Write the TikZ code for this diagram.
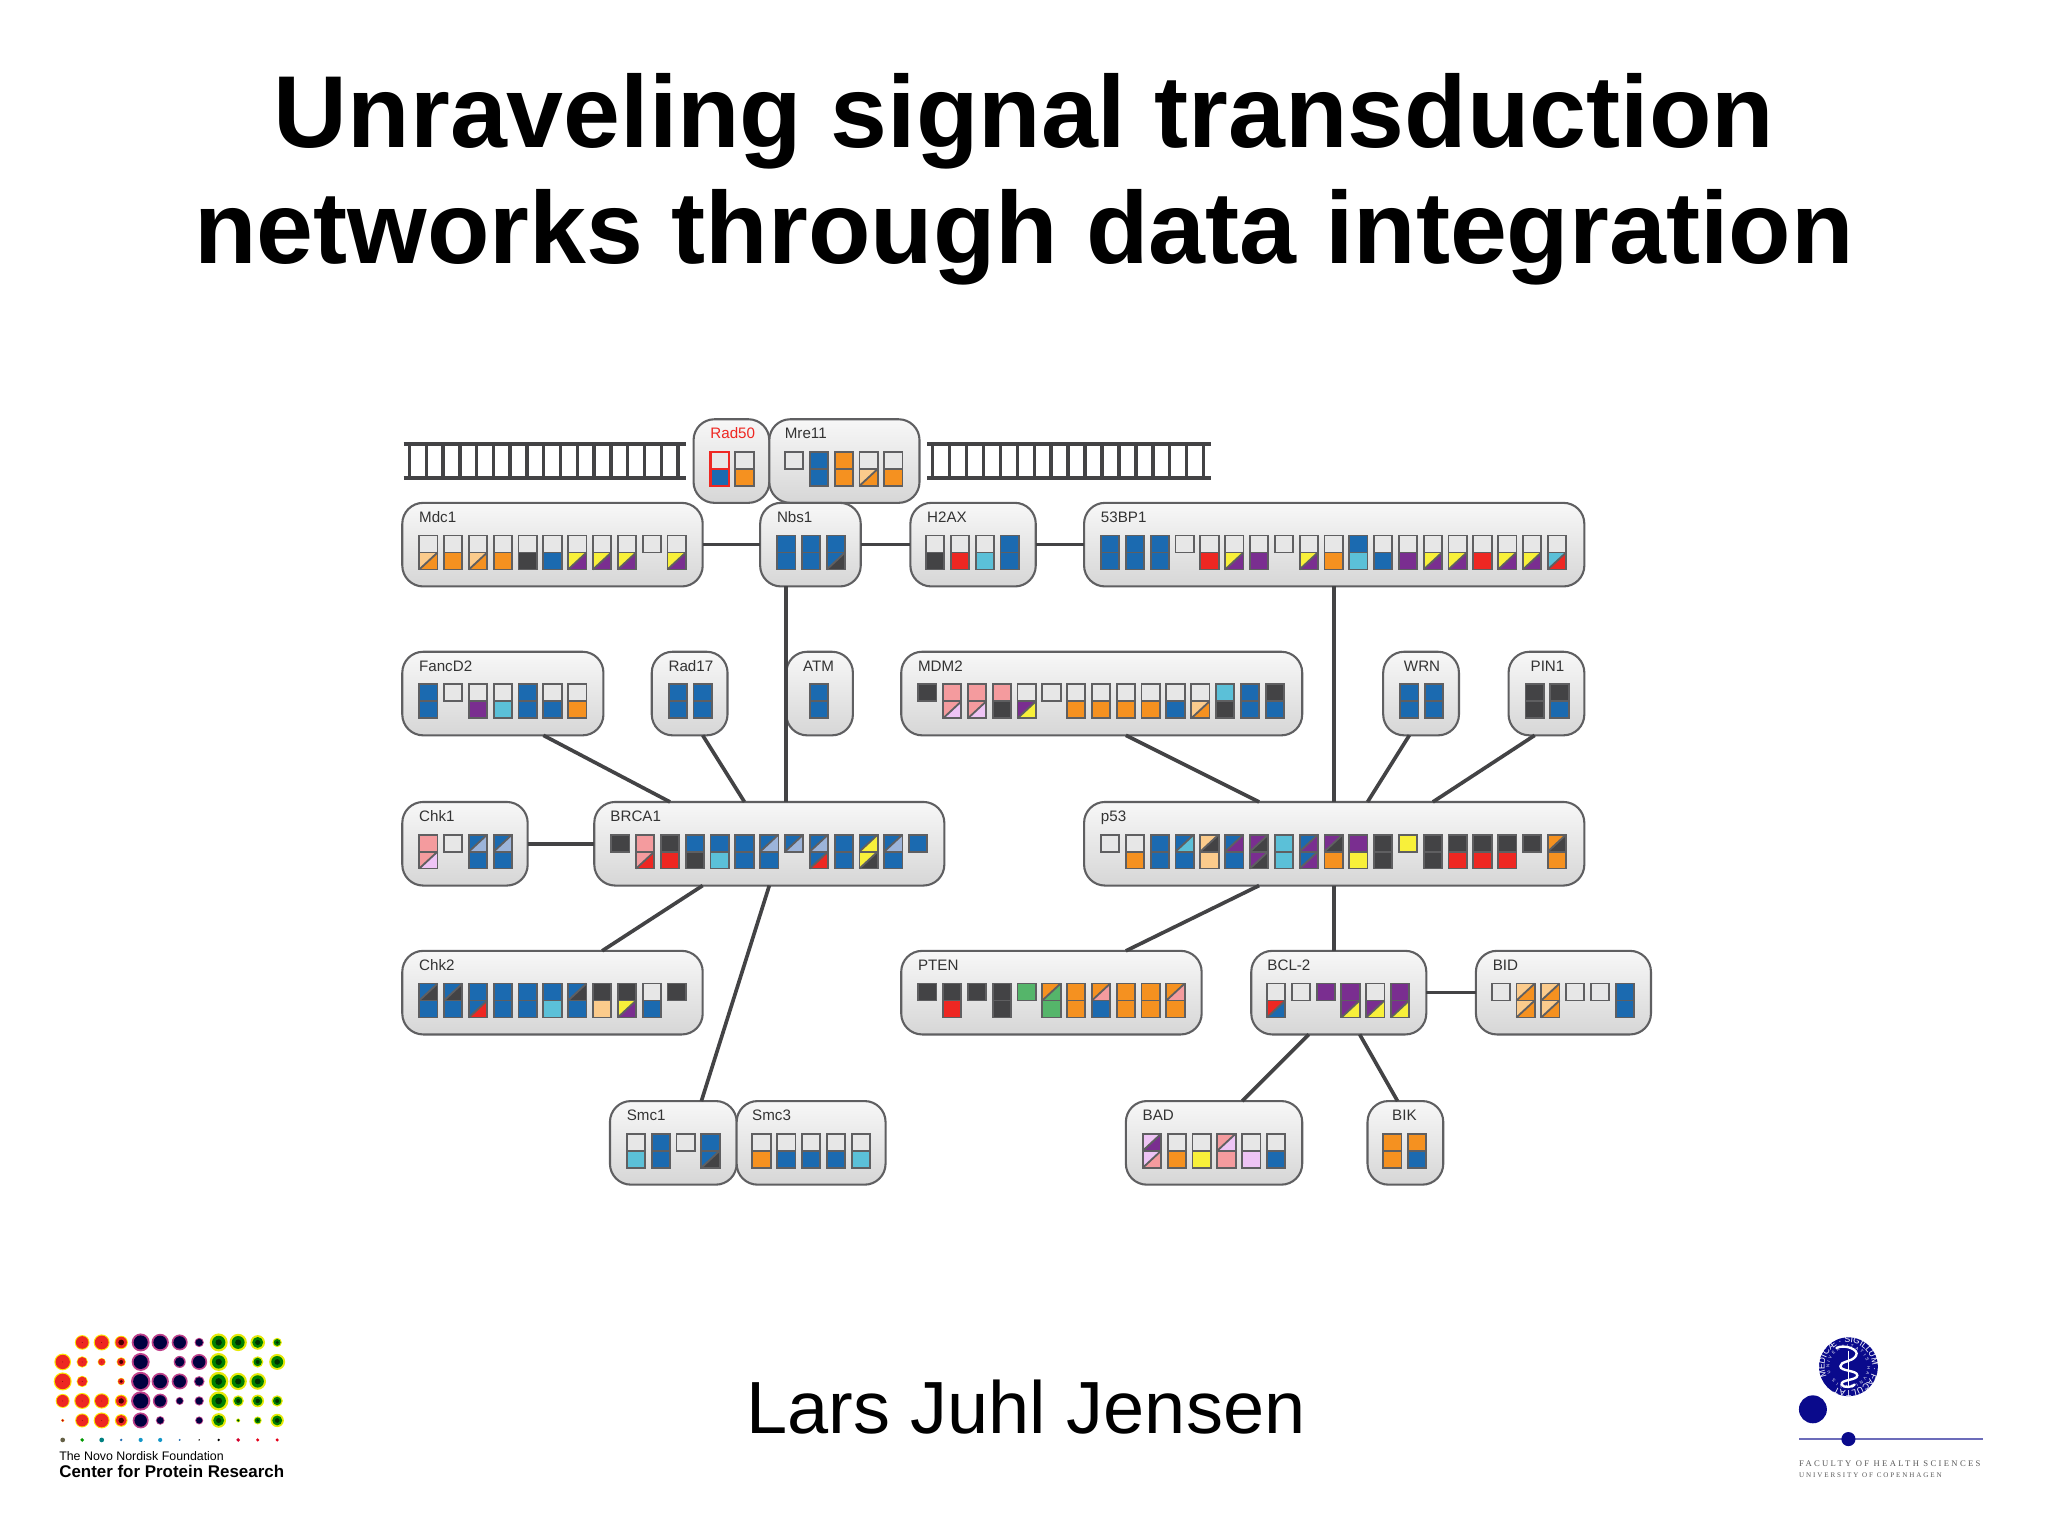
\documentclass[tikz,border=0pt]{standalone}
\usepackage{fontspec}
\usepackage{xcolor}
\setmainfont{Liberation Sans}
\newfontfamily\serifbf{Liberation Serif}[LetterSpace=27]
\usetikzlibrary{calc, decorations.text}

\definecolor{e}{HTML}{E7E7E7}
\definecolor{b}{HTML}{1B6AB0}
\definecolor{B}{HTML}{9CB4DA}
\definecolor{o}{HTML}{F59120}
\definecolor{O}{HTML}{FBCB8C}
\definecolor{k}{HTML}{434345}
\definecolor{r}{HTML}{EE2722}
\definecolor{y}{HTML}{F8F03A}
\definecolor{p}{HTML}{7A2E90}
\definecolor{c}{HTML}{5BC0D8}
\definecolor{s}{HTML}{F49B9E}
\definecolor{l}{HTML}{EEC4F5}
\definecolor{g}{HTML}{55B56A}
\definecolor{edge}{HTML}{5F5F61}
\definecolor{seal}{HTML}{0A0A8C}

\tikzset{
    pbox/.style={draw=edge, line width=0.8pt, rounded corners=8pt, top color=white!97!black, bottom color=white!84!black, inner sep=0pt, outer sep=0pt, minimum height=32pt},
    ptext/.style={anchor=base west, inner sep=0pt, text=black!80, font=\fontsize{5.8}{7}\selectfont},
    cell/.style={draw=edge, line width=0.7pt},
    link/.style={draw=k, line width=1.4pt},
    rail/.style={draw=k, line width=1.3pt},
}

\def\nocell{n}

% one row of glyph columns: x, y, list top-left/top-right/bottom-left/bottom-right
\newcommand{\cells}[3]{
    \foreach \ta/\tb/\ba/\bb [count=\i from 0] in {#3} {
        \begin{scope}[shift={(#1+\i*19,#2)}]
            \fill[fill=\ta] (0,0) rectangle (14,13);
            \ifx\ta\tb\else
                \fill[fill=\tb] (14,0) -- (14,13) -- (0,13) -- cycle;
                \draw[cell] (14,0) -- (0,13);
            \fi
            \draw[cell] (0,0) rectangle (14,13);
            \ifx\ba\nocell\else
                \fill[fill=\ba] (0,13) rectangle (14,26);
                \ifx\ba\bb\else
                    \fill[fill=\bb] (14,13) -- (14,26) -- (0,26) -- cycle;
                    \draw[cell] (14,13) -- (0,26);
                \fi
                \draw[cell] (0,13) rectangle (14,26);
            \fi
        \end{scope}
    }
}

% name, text, left, width, top, text x, cell x, cells
\newcommand{\protein}[8]{
    \node[pbox, minimum width=#4*0.5pt] (#1) at (#3+#4/2,#5+32) {};
    \node[ptext] (#1-t) at (#6,#5+15) {#2};
    \cells{#7}{#5+25}{#8}
}

\begin{document}
\begin{tikzpicture}[x=0.5pt, y=-0.5pt]
    \useasboundingbox (0,0) rectangle (1568,1176);
    \fill[white] (0,0) rectangle (1568,1176);

    % Title
    \node[align=center, font=\fontsize{39.15}{44.5}\selectfont\bfseries, inner sep=0pt] (title) at (784,137.5)
        {Unraveling signal transduction\\networks through data integration};
    \node[font=\fontsize{28.3}{32}\selectfont, inner sep=0pt] (speaker) at (785.5,1077.5) {Lars Juhl Jensen};

    % DNA ladders
    \draw[rail] (309,340) -- (525,340);
    \draw[rail] (309,366) -- (525,366);
    \foreach \n in {0,...,16} {
        \draw[rail] (313.5+\n*12.85,340) -- (313.5+\n*12.85,366);
    }
    \draw[rail] (710,340) -- (927,340);
    \draw[rail] (710,366) -- (927,366);
    \foreach \n in {0,...,16} {
        \draw[rail] (714+\n*12.97,340) -- (714+\n*12.97,366);
    }

    % Proteins
    \protein{Rad50}{\textcolor{r}{Rad50}}{531}{58}{321}{543.5}{544}{e/e/b/b, e/e/o/o}
    \draw[draw=r, line width=0.8pt] (544,346) rectangle (558,372);
    \draw[draw=r, line width=0.8pt] (544,359) -- (558,359);
    \protein{Mre11}{Mre11}{589}{115}{321}{600.5}{601}{e/e/n/n, b/b/b/b, o/o/o/o, e/e/O/o, e/e/o/o}
    \protein{Mdc1}{Mdc1}{308}{230}{385}{320.5}{321}{e/e/O/o, e/e/o/o, e/e/O/o, e/e/o/o, e/e/k/k, e/e/b/b, e/e/y/p, e/e/y/p, e/e/y/p, e/e/n/n, e/e/y/p}
    \protein{Nbs1}{Nbs1}{582}{77}{385}{594.5}{595}{b/b/b/b, b/b/b/b, b/b/b/k}
    \protein{H2AX}{H2AX}{697}{96}{385}{709.5}{709}{e/e/k/k, e/e/r/r, e/e/c/c, b/b/b/b}
    \protein{BPa}{53BP1}{830}{383}{385}{842.5}{843}{b/b/b/b, b/b/b/b, b/b/b/b, e/e/n/n, e/e/r/r, e/e/y/p, e/e/p/p, e/e/n/n, e/e/y/p, e/e/o/o, b/b/c/c, e/e/b/b, e/e/p/p, e/e/y/p, e/e/y/p, e/e/r/r, e/e/y/p, e/e/y/p, e/e/c/r}
    \protein{FancD2}{FancD2}{308}{154}{499}{320.5}{321}{b/b/b/b, e/e/n/n, e/e/p/p, e/e/c/c, b/b/b/b, e/e/b/b, e/e/o/o}
    \protein{Rad17}{Rad17}{499}{58}{499}{511.5}{512}{b/b/b/b, b/b/b/b}
    \protein{ATM}{ATM}{602}{51}{499}{614.5}{620}{b/b/b/b}
    \protein{MDM2}{MDM2}{690}{307}{499}{702.5}{703}{k/k/n/n, s/s/s/l, s/s/s/l, s/s/k/k, e/e/p/y, e/e/n/n, e/e/o/o, e/e/o/o, e/e/o/o, e/e/o/o, e/e/b/b, e/e/O/o, c/c/k/k, b/b/b/b, k/k/b/b}
    \protein{WRN}{WRN}{1059}{58}{499}{1074.5}{1072}{b/b/b/b, b/b/b/b}
    \protein{PIN}{PIN1}{1155}{58}{499}{1171.5}{1168}{k/k/k/k, k/k/b/b}
    \protein{Chk1}{Chk1}{308}{96}{614}{320.5}{321}{s/s/s/l, e/e/n/n, b/B/b/b, b/B/b/b}
    \protein{BRCA1}{BRCA1}{455}{268}{614}{467}{468}{k/k/n/n, s/s/s/r, k/k/r/r, b/b/k/k, b/b/c/c, b/b/b/b, b/B/b/b, b/B/n/n, b/B/b/r, b/b/b/b, b/y/y/k, b/B/b/b, b/b/n/n}
    \protein{p53}{p53}{830}{383}{614}{842.5}{843}{e/e/n/n, e/e/o/o, b/b/b/b, b/c/b/b, O/k/O/O, b/p/b/b, p/k/p/k, c/c/c/c, b/p/b/p, p/k/o/o, p/p/y/y, k/k/k/k, y/y/n/n, k/k/k/k, k/k/r/r, k/k/r/r, k/k/r/r, k/k/n/n, o/k/o/o}
    \protein{Chk2}{Chk2}{308}{230}{728}{320.5}{321}{b/k/b/b, b/k/b/b, b/b/b/r, b/b/b/b, b/b/b/b, b/b/c/c, b/k/b/b, k/k/O/O, k/k/y/p, e/e/b/b, k/k/n/n}
    \protein{PTEN}{PTEN}{690}{230}{728}{702.5}{703}{k/k/n/n, k/k/r/r, k/k/n/n, k/k/k/k, g/g/n/n, o/g/g/g, o/o/o/o, o/s/b/b, o/o/o/o, o/o/o/o, o/s/o/o}
    \protein{BCL}{BCL-2}{958}{134}{728}{970}{970}{e/e/r/b, e/e/n/n, p/p/n/n, p/p/p/y, e/e/p/y, p/p/p/y}
    \protein{BID}{BID}{1130}{134}{728}{1142.5}{1142}{e/e/n/n, O/o/O/o, O/o/O/o, e/e/n/n, e/e/n/n, b/b/b/b}
    \protein{Smc1}{Smc1}{467}{97}{843}{479.5}{480}{e/e/c/c, b/b/b/b, e/e/n/n, b/b/b/k}
    \protein{Smc3}{Smc3}{564}{114}{843}{575.5}{576}{e/e/o/o, e/e/b/b, e/e/b/b, e/e/b/b, e/e/c/c}
    \protein{BAD}{BAD}{862}{135}{843}{874.5}{875}{l/p/l/s, e/e/o/o, e/e/y/y, s/l/s/s, e/e/l/l, e/e/b/b}
    \protein{BIK}{BIK}{1047}{58}{843}{1065.5}{1059}{o/o/o/o, o/o/b/b}

    % Links
    \draw[link] (Mdc1.east) -- (Mdc1.east -| Nbs1.west);
    \draw[link] (Nbs1.east) -- (Nbs1.east -| H2AX.west);
    \draw[link] (H2AX.east) -- (H2AX.east -| BPa.west);
    \draw[link] (ATM.west |- Nbs1.south) -- (ATM.west |- BRCA1.north);
    \draw[link] ($(FancD2.south west)+(108,0)$) -- ($(BRCA1.north west)+(58,0)$);
    \draw[link] ($(Rad17.south west)+(39,0)$) -- ($(BRCA1.north west)+(115,0)$);
    \draw[link] (Chk1.east) -- (Chk1.east -| BRCA1.west);
    \draw[link] ($(BRCA1.south west)+(83,0)$) -- ($(Chk2.north west)+(153,0)$);
    \draw[link] (BRCA1.south) -- ($(Smc1.north west)+(70,0)$);
    \draw[link] (BPa.south) -- (p53.north);
    \draw[link] ($(MDM2.south west)+(172,0)$) -- ($(p53.north west)+(134,0)$);
    \draw[link] ($(WRN.south west)+(20,0)$) -- ($(p53.north west)+(217,0)$);
    \draw[link] ($(PIN.south west)+(20,0)$) -- ($(p53.north west)+(267,0)$);
    \draw[link] ($(p53.south west)+(134,0)$) -- ($(PTEN.north west)+(172,0)$);
    \draw[link] (p53.south) -- (p53.south |- BCL.north);
    \draw[link] (BCL.east) -- (BCL.east -| BID.west);
    \draw[link] ($(BCL.south west)+(44,0)$) -- ($(BAD.north west)+(89,0)$);
    \draw[link] ($(BCL.south west)+(83,0)$) -- ($(BIK.north west)+(23,0)$);

    % Left logo
    \begin{scope}[shift={(48,1027.8)}]
        \foreach \vals [count=\ry from 0] in {
            {0,22,24,20,27,26,24,14,27,26,22,14},
            {25,17,12,14,27,0,18,24,27,0,17,24},
            {27,17,0,11,29,26,24,16,29,26,25,0},
            {21,24,23,19,29,22,12,14,29,17,19,17},
            {5,21,24,19,24,13,0,12,22,6,12,20}} {
            \foreach \rad [count=\cx from 0] in \vals {
                \ifnum\rad>0
                    \ifnum\cx<4
                        \fill[yellow!90!orange] (\cx*14.93,\ry*14.93) circle (\rad*0.255);
                        \fill[fill=r] (\cx*14.93,\ry*14.93) circle (\rad*0.22);
                        \ifnum\cx=3
                            \fill[black!70!red] (\cx*14.93,\ry*14.93) circle (\rad*0.11);
                        \else
                            \fill[black!60!red] (\cx*14.93,\ry*14.93) circle (0.3);
                        \fi
                    \else\ifnum\cx<8
                        \fill[magenta!50!p] (\cx*14.93,\ry*14.93) circle (\rad*0.255);
                        \fill[black!75!blue] (\cx*14.93,\ry*14.93) circle (\rad*0.2);
                    \else
                        \fill[yellow!90!green] (\cx*14.93,\ry*14.93) circle (\rad*0.255);
                        \fill[green!50!black] (\cx*14.93,\ry*14.93) circle (\rad*0.19);
                        \fill[black!80!green] (\cx*14.93,\ry*14.93) circle (\rad*0.09);
                    \fi\fi
                \fi
            }
        }
        \foreach \rad/\dotc [count=\cx from 0] in {1.8/black!70!yellow, 1.5/green!60!black, 1.8/teal, 1/b, 1.6/b!70!cyan, 1.6/b!70!cyan, 0.8/b, 0.6/black, 1/black, 1.5/purple!70!red, 1.3/purple!40!red, 1.3/purple!40!red} {
            \fill[fill=\dotc] (\cx*14.93,5*14.93) circle (\rad);
        }
    \end{scope}
    \node[anchor=base west, inner sep=0pt, font=\fontsize{4.74}{6}\selectfont] (found) at (45,1118.5) {The Novo Nordisk Foundation};
    \node[anchor=base west, inner sep=0pt, font=\fontsize{6.48}{7}\selectfont\bfseries] (center) at (45,1131.5) {Center for Protein Research};

    % Right logo
    \fill[fill=seal] (1415.2,1046.4) circle (22.5);
    \path[decorate, decoration={text along path, text color=white, text align=fit to path,
        text={|\fontsize{3.3}{4}\selectfont|MEDICÆ · SIGILLUM · FACULTATIS}}]
        (1415.2,1046.4) ++(-205:18.3) arc[start angle=-205, end angle=125, radius=18.3];
    \path[decorate, decoration={text along path, text color=white, text align=fit to path,
        text={|\fontsize{1.6}{2}\selectfont|UNIVERSITATIS HAVNIENSIS}}]
        (1415.2,1046.4) ++(-200:14.5) arc[start angle=-200, end angle=140, radius=14.5];
    \draw[white, line width=0.6pt] (1415.2,1034) -- (1415.2,1063);
    \draw[white, line width=0.9pt, line cap=round] (1406,1032) .. controls (1412,1029) and (1424,1033) .. (1421,1038)
        .. controls (1418,1043) and (1409,1042) .. (1409,1046) .. controls (1409,1050) and (1422,1049) .. (1422,1053)
        .. controls (1422,1057) and (1409,1056) .. (1410,1060) .. controls (1411,1063) and (1419,1062) .. (1420,1060);
    \fill[fill=seal] (1388,1079) circle (10.7);
    \draw[draw=seal!60!white, line width=0.5pt] (1377.5,1101.8) -- (1518,1101.8);
    \fill[fill=seal] (1415.2,1101.8) circle (5.4);
    \node[anchor=base west, inner sep=0pt, text=black!65, font=\serifbf\fontsize{3.3}{3.5}\selectfont] (faculty) at (1377,1122.5) {FACULTY OF HEALTH SCIENCES};
    \node[anchor=base west, inner sep=0pt, text=black!65, font=\serifbf\fontsize{2.7}{3.5}\selectfont] (univ) at (1377,1131) {UNIVERSITY OF COPENHAGEN};
\end{tikzpicture}
\end{document}
